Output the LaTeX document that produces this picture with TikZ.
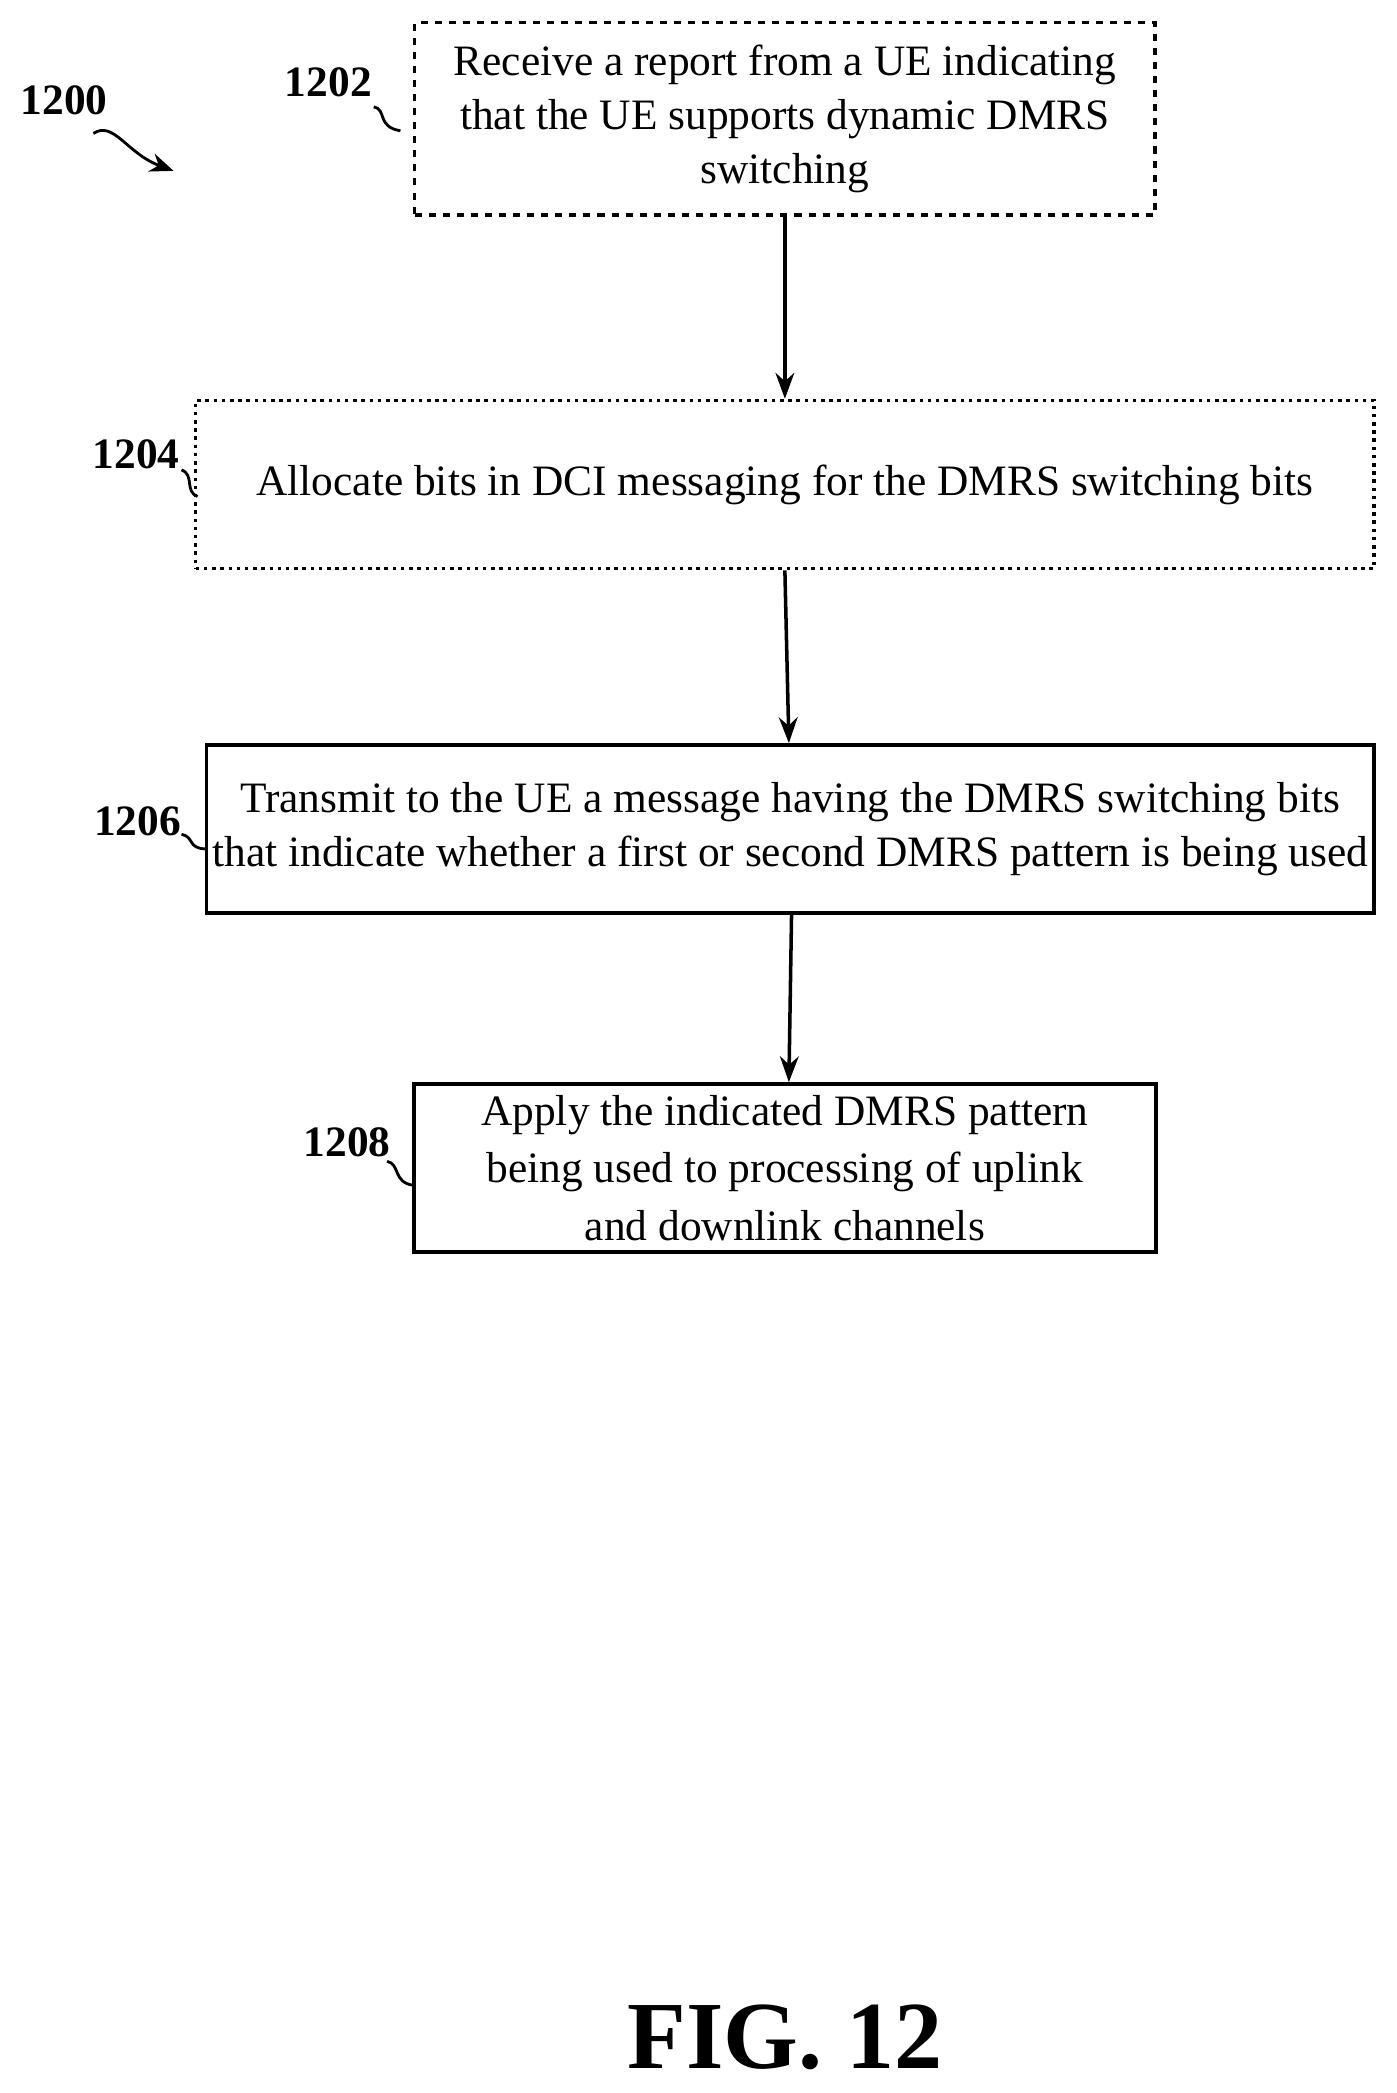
\documentclass[tikz,border=0pt]{standalone}
\usepackage{fontspec}
\setmainfont{Liberation Serif}
\usetikzlibrary{arrows.meta}
\begin{document}
\begin{tikzpicture}[x=0.02cm, y=-0.02cm,
	stepbox/.style={draw, line width=1.5pt, inner sep=0pt, align=center,
		font=\fontsize{18.5}{23}\selectfont},
	flow/.style={-{Stealth[length=11pt,width=8pt]}, line width=1.5pt},
	reflabel/.style={font=\fontsize{18.5}{22}\selectfont\bfseries},
	squig/.style={line width=1.2pt}]
  \useasboundingbox (0,0) rectangle (1046,1568);
  % boxes
  \node[stepbox, dashed, minimum width=11.1cm, minimum height=2.88cm] (recv) at (588,89)
    {Receive a report from a UE indicating\\that the UE supports dynamic DMRS\\switching};
  \node[stepbox, dotted, minimum width=17.66cm, minimum height=2.52cm] (alloc) at (588,363)
    {Allocate bits in DCI messaging for the DMRS switching bits};
  \node[stepbox, minimum width=17.5cm, minimum height=2.52cm] (trans) at (592,621)
    {Transmit to the UE a message having the DMRS switching bits\\that indicate whether a first or second DMRS pattern is being used};
  \node[stepbox, font=\fontsize{18.5}{24.5}\selectfont, minimum width=11.12cm, minimum height=2.52cm] (apply) at (588,875)
    {Apply the indicated DMRS pattern\\being used to processing of uplink\\and downlink channels};
  % arrows
  \draw[flow] (recv.south) -- (alloc.north);
  \draw[flow] (alloc.south) -- (trans.north -| 591,0);
  \draw[flow] (trans.south -| 593,0) -- (apply.north -| 591,0);
  % reference labels
  \node[reflabel] (l1200) at (48,75) {1200};
  \node[reflabel] (l1202) at (246,62) {1202};
  \node[reflabel] (l1204) at (102,340) {1204};
  \node[reflabel] (l1206) at (103,615) {1206};
  \node[reflabel] (l1208) at (260,856) {1208};
  \draw[squig, -{Stealth[length=10pt,width=8pt]}] (70,100) .. controls (85,90) and (95,115) .. (130,128);
  \draw[squig] (280,80) .. controls (290,82) and (282,95) .. (300,98);
  \draw[squig] (136,352) .. controls (146,356) and (138,368) .. (148,372);
  \draw[squig] (136,625) .. controls (146,627) and (140,636) .. (155,636);
  \draw[squig] (290,870) .. controls (300,872) and (294,886) .. (310,888);
  \node[font=\fontsize{41}{44}\selectfont\bfseries] (fig) at (588,1526) {FIG. 12};
\end{tikzpicture}
\end{document}
